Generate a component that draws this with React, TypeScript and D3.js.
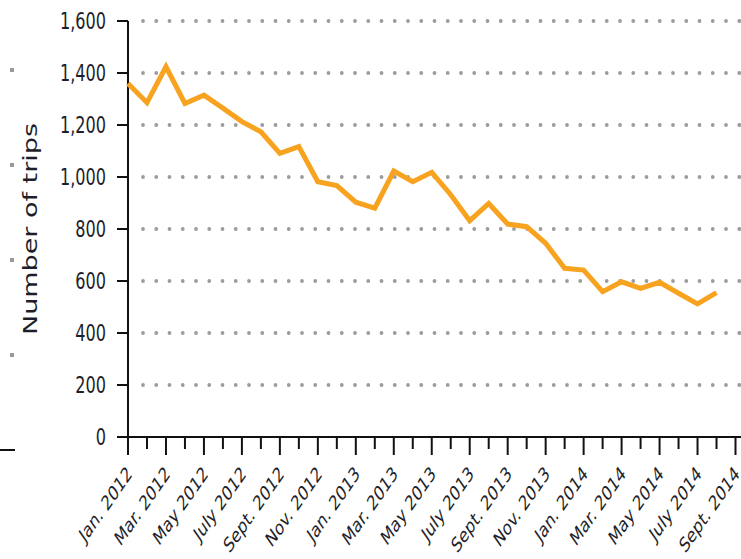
import React from "react";
import * as d3 from "d3";

const trips: number[] = [
  1360, 1286, 1424, 1283, 1315, 1265, 1213, 1174, 1091, 1117, 982, 967,
  903, 880, 1023, 982, 1018, 932, 832, 898, 819, 809, 745, 649,
  642, 559, 597, 572, 595, 553, 512, 555,
];
const tickLabels: string[] = [
  "Jan. 2012", "Mar. 2012", "May 2012", "July 2012", "Sept. 2012", "Nov. 2012",
  "Jan. 2013", "Mar. 2013", "May 2013", "July 2013", "Sept. 2013", "Nov. 2013",
  "Jan. 2014", "Mar. 2014", "May 2014", "July 2014", "Sept. 2014",
];
const yTicks: number[] = [0, 200, 400, 600, 800, 1000, 1200, 1400, 1600];
const monthCount = 32;

const W = 741;
const H = 559;
const SQ = 0.7;
const FONT = "'DejaVu Sans', sans-serif";
const TEXT = "#1e1e2a";

export default function App() {
  const x = d3.scaleLinear().domain([0, monthCount]).range([128, 735.5]);
  const y = d3.scaleLinear().domain([0, 1600]).range([437, 21]);
  const line = d3
    .line<number>()
    .x((_, i) => x(i))
    .y((d) => y(d));
  const fmt = d3.format(",");
  const months = d3.range(0, monthCount + 1);

  return (
    <svg
      width={W}
      height={H}
      style={{ position: "fixed", left: 0, top: 0, background: "#fff" }}
    >
      {/* stray marks at left edge */}
      {[70, 165, 260, 355].map((yy) => (
        <rect key={yy} x={10} y={yy - 2} width={4} height={4} fill="#9a9a9a" />
      ))}
      <line x1={0} x2={15} y1={450} y2={450} stroke="#111" strokeWidth={2} />

      {/* dotted grid */}
      {yTicks
        .filter((t) => t > 0)
        .map((t) => (
          <line
            key={"g" + t}
            x1={143}
            x2={W}
            y1={y(t)}
            y2={y(t)}
            stroke="#9c9c9c"
            strokeWidth={3.8}
            strokeDasharray="0 13.25"
            strokeLinecap="round"
          />
        ))}

      {/* y axis */}
      <line x1={128} x2={128} y1={y(1600)} y2={y(0)} stroke="#111" strokeWidth={2} />
      {yTicks.map((t) => (
        <g key={"y" + t}>
          <line x1={117} x2={128} y1={y(t)} y2={y(t)} stroke="#111" strokeWidth={2} />
          <text
            transform={`translate(106,${y(t) + 8}) scale(${SQ},1)`}
            textAnchor="end"
            fontFamily={FONT}
            fontSize={23}
            fill={TEXT}
          >
            {fmt(t)}
          </text>
        </g>
      ))}
      <text
        transform={`translate(37,229) scale(${SQ},1) rotate(-90)`}
        textAnchor="middle"
        fontFamily={FONT}
        fontSize={27}
        fill={TEXT}
      >
        Number of trips
      </text>

      {/* x axis */}
      <line x1={117} x2={W} y1={y(0)} y2={y(0)} stroke="#111" strokeWidth={2} />
      {months.map((m) => (
        <line
          key={"xt" + m}
          x1={x(m)}
          x2={x(m)}
          y1={y(0) - 1}
          y2={m % 2 === 0 ? y(0) + 18 : y(0) + 12}
          stroke="#111"
          strokeWidth={2}
        />
      ))}
      {tickLabels.map((lab, i) => (
        <text
          key={"xl" + i}
          transform={`translate(${x(i * 2) + 5},475) scale(${SQ},1) rotate(-45)`}
          textAnchor="end"
          fontFamily={FONT}
          fontSize={20.5}
          fill={TEXT}
        >
          {lab}
        </text>
      ))}

      {/* data line */}
      <path
        d={line(trips) || ""}
        fill="none"
        stroke="#F8A320"
        strokeWidth={5}
        strokeLinejoin="miter"
      />
    </svg>
  );
}
